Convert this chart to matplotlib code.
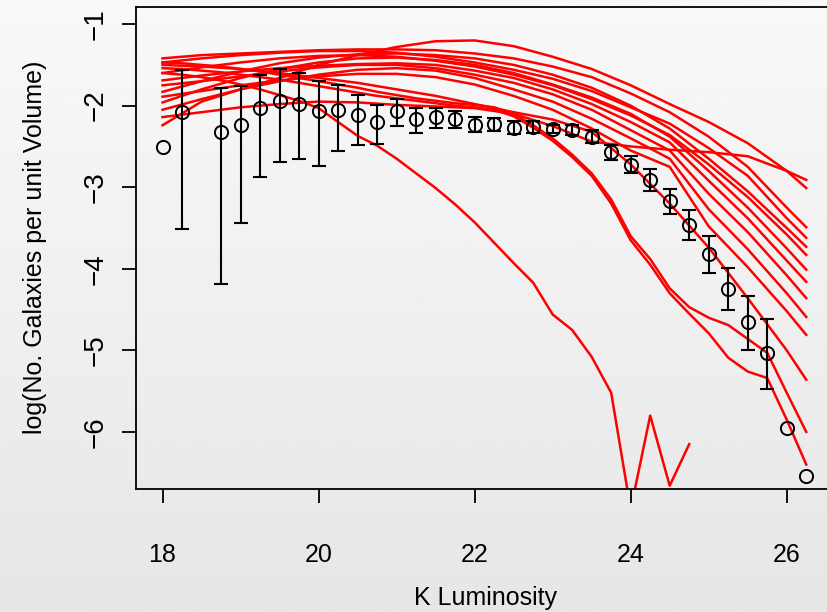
import numpy as np
import matplotlib
matplotlib.use("Agg")
import matplotlib.pyplot as plt

plt.rcParams['font.family'] = ['Liberation Sans', 'DejaVu Sans']

# observed luminosity function (points + error bars)
obs_k = [18.0, 18.25, 18.75, 19.0, 19.25, 19.5, 19.75, 20.0, 20.25, 20.5, 20.75,
         21.0, 21.25, 21.5, 21.75, 22.0, 22.25, 22.5, 22.75, 23.0, 23.25, 23.5,
         23.75, 24.0, 24.25, 24.5, 24.75, 25.0, 25.25, 25.5, 25.75, 26.0, 26.25]
obs_y = [-2.51, -2.08, -2.32, -2.24, -2.03, -1.94, -1.98, -2.07, -2.05, -2.12, -2.20,
         -2.07, -2.16, -2.14, -2.16, -2.24, -2.23, -2.27, -2.26, -2.29, -2.30, -2.38,
         -2.57, -2.73, -2.91, -3.17, -3.46, -3.82, -4.25, -4.65, -5.03, -5.95, -6.54]
obs_hi = [None, -1.56, -1.78, -1.76, -1.62, -1.55, -1.60, -1.70, -1.75, -1.87, -1.99,
          -1.92, -2.03, -2.03, -2.07, -2.14, -2.15, -2.19, -2.19, -2.24, -2.24, -2.30,
          -2.48, -2.62, -2.78, -3.02, -3.28, -3.60, -3.99, -4.33, -4.62, None, None]
obs_lo = [None, -3.51, -4.19, -3.44, -2.87, -2.69, -2.65, -2.74, -2.56, -2.48, -2.47,
          -2.25, -2.34, -2.27, -2.27, -2.32, -2.31, -2.35, -2.33, -2.34, -2.36, -2.46,
          -2.67, -2.83, -3.05, -3.33, -3.65, -4.05, -4.50, -5.00, -5.47, None, None]

# model runs
k_coarse = [18.0, 18.5, 19.0, 19.5, 20.0, 20.5, 21.0, 21.5, 22.0, 22.5, 23.0, 23.5,
            24.0, 24.5, 25.0, 25.5, 26.0, 26.25]
k_fine = [18.0, 18.25, 18.5, 18.75, 19.0, 19.25, 19.5, 19.75, 20.0, 20.25, 20.5, 20.75,
          21.0, 21.25, 21.5, 21.75, 22.0, 22.25, 22.5, 22.75, 23.0, 23.25, 23.5, 23.75,
          24.0, 24.25, 24.5, 24.75, 25.0, 25.25, 25.5, 25.75, 26.0, 26.25]

model_smooth = [
    [-2.24, -1.95, -1.80, -1.66, -1.50, -1.38, -1.28, -1.21, -1.20, -1.27, -1.40, -1.55, -1.75, -1.98, -2.20, -2.46, -2.80, -3.01],
    [-2.14, -2.08, -2.02, -1.98, -1.95, -1.96, -1.99, -2.01, -2.03, -2.10, -2.25, -2.44, -2.50, -2.54, -2.57, -2.62, -2.80, -2.91],
    [-1.42, -1.38, -1.36, -1.34, -1.32, -1.31, -1.31, -1.32, -1.36, -1.42, -1.52, -1.65, -1.85, -2.08, -2.38, -2.75, -3.25, -3.49],
    [-1.47, -1.42, -1.38, -1.35, -1.33, -1.33, -1.35, -1.40, -1.47, -1.56, -1.67, -1.82, -2.02, -2.22, -2.52, -2.86, -3.38, -3.62],
    [-1.83, -1.70, -1.58, -1.48, -1.41, -1.37, -1.36, -1.38, -1.42, -1.50, -1.62, -1.78, -2.00, -2.28, -2.65, -3.05, -3.50, -3.73],
    [-1.60, -1.53, -1.47, -1.42, -1.39, -1.38, -1.40, -1.45, -1.52, -1.62, -1.75, -1.92, -2.12, -2.36, -2.72, -3.12, -3.58, -3.83],
    [-1.96, -1.80, -1.66, -1.55, -1.47, -1.42, -1.41, -1.44, -1.50, -1.60, -1.74, -1.90, -2.10, -2.38, -2.80, -3.25, -3.75, -4.01],
    [-1.69, -1.63, -1.58, -1.54, -1.51, -1.49, -1.48, -1.50, -1.57, -1.66, -1.80, -1.98, -2.20, -2.45, -2.92, -3.38, -3.90, -4.16],
    [-1.75, -1.70, -1.64, -1.58, -1.53, -1.50, -1.50, -1.54, -1.62, -1.72, -1.86, -2.05, -2.30, -2.55, -3.08, -3.55, -4.08, -4.36],
    [-2.05, -1.92, -1.80, -1.70, -1.62, -1.56, -1.54, -1.57, -1.66, -1.80, -1.95, -2.16, -2.40, -2.65, -3.27, -3.76, -4.30, -4.59],
    [-1.89, -1.82, -1.75, -1.69, -1.64, -1.61, -1.61, -1.65, -1.74, -1.88, -2.05, -2.28, -2.55, -2.75, -3.48, -3.98, -4.52, -4.81],
    [-1.50, -1.52, -1.55, -1.60, -1.66, -1.72, -1.80, -1.88, -1.98, -2.08, -2.17, -2.32, -2.72, -3.20, -3.74, -4.36, -5.00, -5.36],
]

model_fine = [
    [-1.47, -1.48, -1.50, -1.52, -1.55, -1.58, -1.62, -1.66, -1.70, -1.74, -1.78, -1.83,
     -1.87, -1.91, -1.94, -1.97, -1.99, -2.02, -2.10, -2.24, -2.40, -2.60, -2.83, -3.15,
     -3.60, -3.88, -4.24, -4.47, -4.60, -4.69, -4.86, -5.03, -5.52, -6.00],
    [-1.54, -1.55, -1.57, -1.59, -1.62, -1.65, -1.68, -1.72, -1.76, -1.80, -1.84, -1.88,
     -1.91, -1.94, -1.97, -2.00, -2.02, -2.05, -2.13, -2.27, -2.43, -2.63, -2.86, -3.20,
     -3.65, -3.95, -4.30, -4.55, -4.79, -5.09, -5.26, -5.34, -5.85, -6.40],
    [-1.60, -1.62, -1.65, -1.69, -1.74, -1.80, -1.87, -1.94, -2.03, -2.20, -2.37, -2.49,
     -2.65, -2.83, -3.01, -3.21, -3.43, -3.68, -3.93, -4.17, -4.56, -4.75, -5.08, -5.52,
     -6.95, -5.80, -6.66, -6.15],
]

fig = plt.figure(figsize=(8.27, 6.12), dpi=100)

# grey gradient background
bg = fig.add_axes([0, 0, 1, 1], zorder=-10)
grad = np.linspace(0.975, 0.902, 256).reshape(-1, 1)
bg.imshow(grad, aspect='auto', cmap='gray', vmin=0, vmax=1, extent=[0, 1, 0, 1])
bg.set_axis_off()

ax = fig.add_axes([136 / 827, 123 / 612, 696 / 827, 482 / 612])
ax.set_facecolor('none')

for vals in model_smooth:
    ax.plot(k_coarse[:len(vals)], vals, color='red', lw=1.8, zorder=2)
for vals in model_fine:
    ax.plot(k_fine[:len(vals)], vals, color='red', lw=1.8, zorder=2)

ax.plot(obs_k, obs_y, 'o', mfc='none', mec='black', ms=9.5, mew=1.4, zorder=4)
eb_k = [k for k, h in zip(obs_k, obs_hi) if h is not None]
eb_hi = [h for h in obs_hi if h is not None]
eb_lo = [l for l in obs_lo if l is not None]
ax.vlines(eb_k, eb_lo, eb_hi, color='black', lw=1.5, zorder=3)
ax.plot(eb_k, eb_hi, '_', color='black', ms=10.5, mew=1.5, zorder=3)
ax.plot(eb_k, eb_lo, '_', color='black', ms=10.5, mew=1.5, zorder=3)

ax.set_xlim(17.66, 26.58)
ax.set_ylim(-6.70, -0.79)
ax.set_xticks([18, 20, 22, 24, 26])
ax.set_yticks([-1, -2, -3, -4, -5, -6])
ax.spines['right'].set_visible(False)
for s in ['top', 'left', 'bottom']:
    ax.spines[s].set_linewidth(1.3)
ax.tick_params(length=10, width=1.3)
ax.tick_params(axis='x', pad=29, labelsize=18)
ax.tick_params(axis='y', pad=10, labelrotation=90, labelsize=20)
for lab in ax.get_yticklabels():
    lab.set_va('center')

fig.text(485 / 827, 1 - 598 / 612, 'K Luminosity', ha='center', va='center', fontsize=18)
fig.text(35 / 827, 1 - 247 / 612, 'log(No. Galaxies per unit Volume)', ha='center',
         va='center', rotation=90, fontsize=18)

fig.savefig('out.png', dpi=100)
